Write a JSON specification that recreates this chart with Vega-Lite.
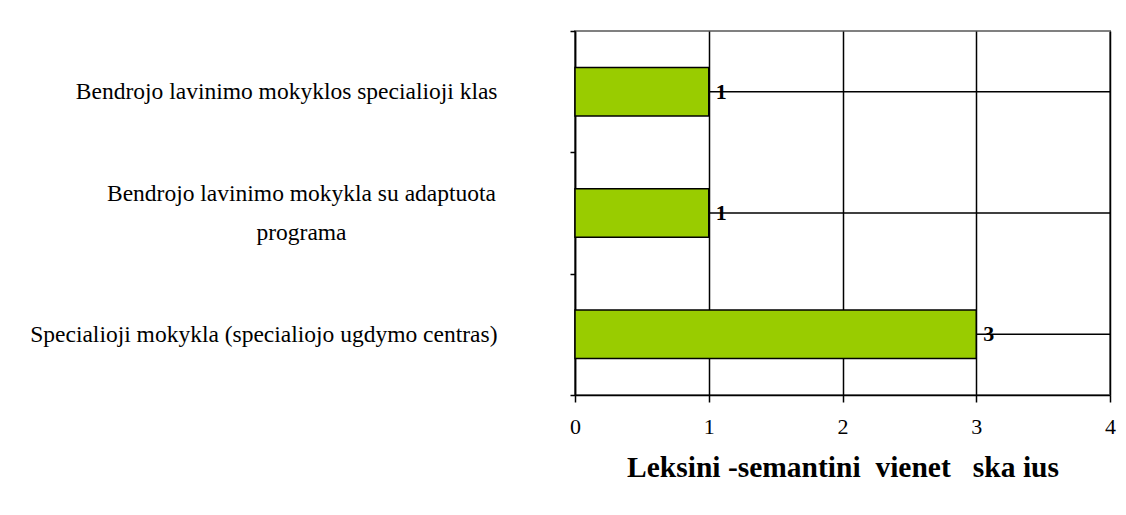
{
  "$schema": "https://vega.github.io/schema/vega-lite/v6.json",
  "width": 535,
  "height": 364,
  "autosize": {"type": "none"},
  "padding": {"left": 575, "top": 31, "right": 16, "bottom": 120},
  "background": "white",
  "config": {
    "font": "Liberation Serif",
    "view": {"stroke": "#808080", "strokeWidth": 2}
  },
  "data": {
    "values": [
      {"kategorija": "Bendrojo lavinimo mokyklos specialioji klas", "reiksme": 1},
      {"kategorija": "Bendrojo lavinimo mokykla su adaptuota programa", "reiksme": 1},
      {"kategorija": "Specialioji mokykla (specialiojo ugdymo centras)", "reiksme": 3}
    ]
  },
  "encoding": {
    "y": {
      "field": "kategorija",
      "type": "nominal",
      "sort": null,
      "scale": {"paddingInner": 0, "paddingOuter": 0},
      "axis": {
        "title": null,
        "domainColor": "black",
        "domainWidth": 1.5,
        "tickColor": "black",
        "tickWidth": 1.5,
        "tickSize": 5,
        "tickBand": "extent",
        "labelFont": "Liberation Serif",
        "labelFontSize": 23.5,
        "labelColor": "black",
        "labelExpr": "datum.value == 'Bendrojo lavinimo mokykla su adaptuota programa' ? ['Bendrojo lavinimo mokykla su adaptuota', 'programa'] : datum.value",
        "labelAlign": {"condition": {"test": "datum.value == 'Bendrojo lavinimo mokykla su adaptuota programa'", "value": "center"}, "value": "right"},
        "labelPadding": {"condition": {"test": "datum.value == 'Bendrojo lavinimo mokykla su adaptuota programa'", "value": 269}, "value": 73},
        "labelOffset": {"condition": {"test": "datum.value == 'Bendrojo lavinimo mokykla su adaptuota programa'", "value": -20}, "value": 0},
        "labelLineHeight": 39,
        "labelLimit": 600
      }
    }
  },
  "layer": [
    {
      "mark": {"type": "rule", "color": "black", "strokeWidth": 1.5},
      "encoding": {
        "x": {"datum": 0, "type": "quantitative"},
        "x2": {"datum": 4}
      }
    },
    {
      "mark": {"type": "bar", "color": "#99CC00", "stroke": "black", "strokeWidth": 1.5, "height": {"band": 0.4}},
      "encoding": {
        "x": {
          "field": "reiksme",
          "type": "quantitative",
          "scale": {"domain": [0, 4], "nice": false},
          "axis": {
            "title": "Leksini\u00a0-semantini\u00a0\u00a0vienet\u00a0\u00a0\u00a0ska\u00a0ius",
            "titleFont": "Liberation Serif",
            "titleFontSize": 29.5,
            "titleFontWeight": "bold",
            "titleColor": "black",
            "titlePadding": 16,
            "values": [0, 1, 2, 3, 4],
            "format": "d",
            "domainColor": "black",
            "domainWidth": 1.5,
            "tickColor": "black",
            "tickWidth": 1.5,
            "tickSize": 7,
            "grid": true,
            "gridColor": "black",
            "gridWidth": 1.5,
            "gridOpacity": 1,
            "labelFont": "Liberation Serif",
            "labelFontSize": 22,
            "labelColor": "black",
            "labelPadding": 14,
            "labelFlush": false
          }
        }
      }
    },
    {
      "mark": {"type": "text", "align": "left", "baseline": "middle", "dx": 7, "fontSize": 22, "fontWeight": "bold", "font": "Liberation Serif", "color": "black"},
      "encoding": {
        "x": {"field": "reiksme", "type": "quantitative"},
        "text": {"field": "reiksme", "type": "quantitative"}
      }
    }
  ]
}
